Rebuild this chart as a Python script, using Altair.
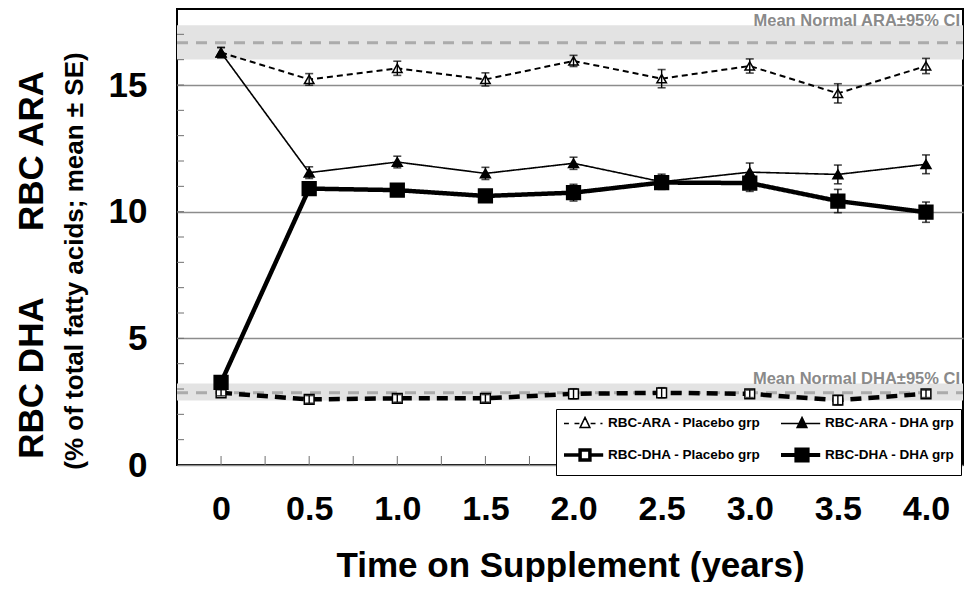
import altair as alt
import pandas as pd

# ---------------- data ----------------
times = [0, 0.5, 1.0, 1.5, 2.0, 2.5, 3.0, 3.5, 4.0]

ara_placebo = [16.28, 15.22, 15.66, 15.22, 15.95, 15.25, 15.75, 14.67, 15.75]
ara_placebo_se = [0.20, 0.23, 0.28, 0.26, 0.22, 0.36, 0.28, 0.38, 0.30]
ara_dha = [16.28, 11.54, 11.96, 11.51, 11.91, 11.18, 11.56, 11.47, 11.87]
ara_dha_se = [0.20, 0.23, 0.23, 0.24, 0.24, 0.30, 0.36, 0.37, 0.37]
dha_placebo = [2.85, 2.59, 2.63, 2.63, 2.81, 2.85, 2.81, 2.56, 2.81]
dha_placebo_se = [0.12, 0.15, 0.15, 0.15, 0.20, 0.20, 0.15, 0.18, 0.15]
dha_dha = [3.26, 10.91, 10.85, 10.62, 10.75, 11.15, 11.13, 10.42, 9.98]
dha_dha_se = [0.20, 0.20, 0.20, 0.20, 0.33, 0.18, 0.33, 0.46, 0.40]

series_names = [
    "RBC-ARA - Placebo grp",
    "RBC-ARA - DHA grp",
    "RBC-DHA - Placebo grp",
    "RBC-DHA - DHA grp",
]

normal_names = ["ARA", "DHA"]
normal_mean = [16.67, 2.85]
normal_lo = [16.01, 2.55]
normal_hi = [17.36, 3.22]
normal_labels = ["Mean Normal ARA\u00b195% CI", "Mean Normal DHA\u00b195% CI"]

x_ticks = [0, 0.5, 1.0, 1.5, 2.0, 2.5, 3.0, 3.5, 4.0]
y_ticks = [0, 5, 10, 15]
y_minor = [1, 2, 3, 4, 5, 6, 7, 8, 9, 10, 11, 12, 13, 14, 15, 16, 17]
x_minor = [0, 0.25, 0.5, 0.75, 1.0, 1.25, 1.5, 1.75, 2.0, 2.25, 2.5, 2.75,
           3.0, 3.25, 3.5, 3.75, 4.0]

# ---------------- tables ----------------
rows = []
for name, vals, ses in zip(series_names,
                           [ara_placebo, ara_dha, dha_placebo, dha_dha],
                           [ara_placebo_se, ara_dha_se, dha_placebo_se, dha_dha_se]):
    for t, v, s in zip(times, vals, ses):
        rows.append({"t": t, "v": v, "lo": v - s, "hi": v + s, "series": name})
df = pd.DataFrame(rows)

norm_df = pd.DataFrame({"name": normal_names, "mean": normal_mean,
                        "lo": normal_lo, "hi": normal_hi, "label": normal_labels})

# ---------------- styling ----------------
W, H = 786, 456
FONT = "Liberation Sans, Arial, Helvetica, sans-serif"

xs = alt.Scale(domain=[-0.25, 4.21], nice=False, zero=False)
ys = alt.Scale(domain=[0, 18], nice=False, zero=False)

x_axis = alt.Axis(values=x_ticks,
                  labelExpr="datum.value == 0 ? '0' : format(datum.value, '.1f')",
                  labelFont=FONT, labelFontSize=34, labelFontWeight="bold",
                  labelColor="black", labelPadding=27, labelFlush=False,
                  ticks=False, tickSize=0, domain=False, grid=False,
                  titleFont=FONT, titleFontSize=35, titleFontWeight="bold",
                  titleColor="black", titlePadding=22)
y_axis = alt.Axis(values=y_ticks, labelFont=FONT, labelFontSize=35,
                  labelFontWeight="bold", labelColor="black", labelPadding=30,
                  labelFlush=False, ticks=False, tickSize=0, domain=False,
                  grid=True, gridColor="#8c8c8c", gridWidth=1.3)

X = alt.X("t:Q", scale=xs, axis=x_axis, title="Time on Supplement (years)")
Y = alt.Y("v:Q", scale=ys, axis=y_axis, title=None)

# bands for normal values
band = alt.Chart(norm_df).mark_rect(color="#e3e3e3").encode(
    x=alt.value(0), x2=alt.value(W),
    y=alt.Y("lo:Q", scale=ys, axis=y_axis, title=None), y2="hi:Q")
mean_rule = alt.Chart(norm_df).mark_rule(
    color="#ababab", strokeWidth=3, strokeDash=[11, 8]).encode(
    x=alt.value(0), x2=alt.value(W), y=alt.Y("mean:Q", scale=ys))
band_text = alt.Chart(norm_df).mark_text(
    align="right", baseline="alphabetic", font=FONT, fontSize=16.5,
    fontWeight="bold", color="#8a8a8a", dy=1).encode(
    x=alt.value(W - 3), y=alt.Y("hi:Q", scale=ys), text="label:N")

# minor ticks
yminor = alt.Chart(pd.DataFrame({"y": y_minor})).mark_rule(
    color="#707070", strokeWidth=1).encode(
    y=alt.Y("y:Q", scale=ys), x=alt.value(0), x2=alt.value(7))
xminor = alt.Chart(pd.DataFrame({"x": x_minor})).mark_rule(
    color="#707070", strokeWidth=1).encode(
    x=alt.X("x:Q", scale=xs), y=alt.value(H), y2=alt.value(H - 9))

styles = {
    "RBC-ARA - Placebo grp": dict(dash=[6, 4], width=2, shape="triangle-up", fill="white", size=90),
    "RBC-DHA - Placebo grp": dict(dash=[11, 7], width=4.5, shape="square", fill="white", size=95),
    "RBC-ARA - DHA grp": dict(dash=[1, 0], width=1.6, shape="triangle-up", fill="black", size=100),
    "RBC-DHA - DHA grp": dict(dash=[1, 0], width=4.5, shape="square", fill="black", size=190),
}

series_layers = []
for name in ["RBC-ARA - Placebo grp", "RBC-DHA - Placebo grp",
             "RBC-ARA - DHA grp", "RBC-DHA - DHA grp"]:
    st = styles[name]
    base = alt.Chart(df).transform_filter(alt.datum.series == name)
    line = base.mark_line(color="black", strokeWidth=st["width"],
                          strokeDash=st["dash"]).encode(x=X, y=Y)
    pts = base.mark_point(shape=st["shape"], filled=True, fill=st["fill"],
                          stroke="black", strokeWidth=1.5, size=st["size"],
                          opacity=1).encode(x=X, y=Y)
    err = base.mark_rule(color="black", strokeWidth=1.4).encode(
        x=X, y=alt.Y("lo:Q", scale=ys), y2="hi:Q")
    cap_lo = base.mark_tick(color="black", thickness=1.6, size=8,
                            orient="horizontal").encode(x=X, y=alt.Y("lo:Q", scale=ys))
    cap_hi = base.mark_tick(color="black", thickness=1.6, size=8,
                            orient="horizontal").encode(x=X, y=alt.Y("hi:Q", scale=ys))
    series_layers += [line, pts, err, cap_lo, cap_hi]

# legend (native legend; symbol = line + marker path, unit = 7 px)
tri = "M2,-0.85L2.7,0.6L1.3,0.6Z"
sq_small = "M1.3,-0.7H2.7V0.7H1.3Z"
sq_big = "M1.2,-0.8H2.8V0.8H1.2Z"
legend_paths = [
    "M-1,0H-0.3M0.5,0H1.2M2.8,0H3.5M4.2,0H4.5" + tri,
    "M-1,0H4.6" + tri,
    "M-1,0H1.3M2.7,0H4.6" + sq_small,
    "M-1,0H4.6" + sq_big,
]
leg = alt.Legend(title=None, orient="none", legendX=379, legendY=400,
                 columns=2, direction="horizontal", strokeColor="black",
                 fillColor="white", padding=6, labelFont=FONT,
                 labelFontSize=13.5, labelFontWeight="bold",
                 labelColor="black", labelLimit=400, symbolSize=196,
                 rowPadding=10, columnPadding=12, labelOffset=28,
                 symbolStrokeColor="black")
legend_layer = alt.Chart(df).transform_filter("false").mark_point(
    filled=False, opacity=1).encode(
    x=X, y=Y,
    shape=alt.Shape("series:N", scale=alt.Scale(domain=series_names, range=legend_paths), legend=leg),
    fill=alt.Fill("series:N", scale=alt.Scale(domain=series_names,
                  range=["white", "black", "white", "black"]), legend=leg),
    stroke=alt.Stroke("series:N", scale=alt.Scale(domain=series_names,
                      range=["black", "black", "black", "black"]), legend=leg),
    strokeWidth=alt.StrokeWidth("series:N", scale=alt.Scale(type="ordinal", domain=series_names,
                                range=[1.5, 1.5, 3.5, 4]), legend=leg),
)

# left-side titles
one = pd.DataFrame({"a": [0]})
t_ara = alt.Chart(one).mark_text(text="RBC ARA", angle=270, font=FONT, fontSize=35,
                                 fontWeight="bold", align="center", baseline="alphabetic",
                                 color="black").encode(x=alt.value(-134), y=alt.value(142))
t_dha = alt.Chart(one).mark_text(text="RBC DHA", angle=270, font=FONT, fontSize=35,
                                 fontWeight="bold", align="center", baseline="alphabetic",
                                 color="black").encode(x=alt.value(-134), y=alt.value(369))
t_sub = alt.Chart(one).mark_text(text="(% of total fatty acids; mean \u00b1 SE)", angle=270,
                                 font=FONT, fontSize=26, fontWeight="bold", align="center",
                                 baseline="alphabetic", color="black").encode(
    x=alt.value(-94), y=alt.value(252))

chart = alt.layer(
    band, mean_rule, band_text, yminor, xminor, *series_layers, legend_layer,
    t_ara, t_dha, t_sub
).properties(
    width=W, height=H,
    autosize=alt.AutoSizeParams(type="none"),
    padding={"left": 169, "top": 1, "right": 1, "bottom": 117},
).configure_view(stroke="black", strokeWidth=2)

chart.save("out.html", embed_options={"renderer": "svg", "actions": False})
